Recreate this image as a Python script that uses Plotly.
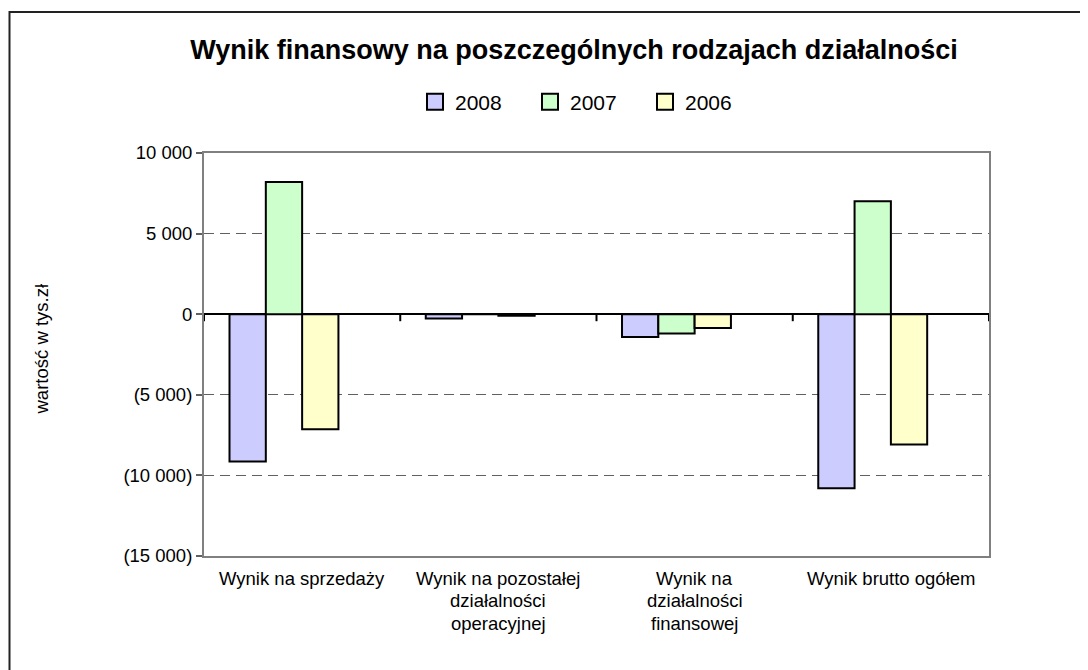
import plotly.graph_objects as go

# data (tys. zł)
categories = [
    "Wynik na sprzedaży",
    "Wynik na pozostałej<br>działalności<br>operacyjnej",
    "Wynik na<br>działalności<br>finansowej",
    "Wynik brutto ogółem",
]
years = ["2008", "2007", "2006"]
values_2008 = [-9130, -270, -1410, -10790]
values_2007 = [8200, 0, -1200, 7010]
values_2006 = [-7140, -100, -850, -8090]
colors = ["#CCCCFF", "#CCFFCC", "#FFFFCC"]

y_ticks = [-15000, -10000, -5000, 0, 5000, 10000]
y_tick_labels = ["(15 000)", "(10 000)", "(5 000)", "0", "5 000", "10 000"]

title_text = "Wynik finansowy na poszczególnych rodzajach działalności"
y_title = "wartość w tys.zł"

FONT = "Arial, Liberation Sans, sans-serif"

# page has an 8px body margin, so the figure is drawn 8px smaller
OFF = 8
W, H = 1088 - OFF, 670 - OFF
L, R, T, B = 204 - OFF, 99, 153 - OFF, 114
pw, ph = W - L - R, H - T - B


def px_x(x):
    # page pixel -> paper x
    return (x - OFF - L) / pw


def px_y(y):
    # page pixel -> paper y
    return (H - B - (y - OFF)) / ph


fig = go.Figure()
bar_w = 0.185
offsets = [-2 * bar_w, -bar_w, 0]
for name, vals, col, off in zip(years, [values_2008, values_2007, values_2006], colors, offsets):
    fig.add_trace(go.Bar(
        x=list(range(len(categories))), y=vals, name=name,
        width=bar_w, offset=off, showlegend=False,
        marker=dict(color=col, line=dict(color="black", width=2)),
    ))
# legend entries with bigger squares
for name, col in zip(years, colors):
    fig.add_trace(go.Scatter(
        x=[None], y=[None], mode="markers", name=name,
        marker=dict(symbol="square", size=16, color=col,
                    line=dict(color="black", width=2)),
    ))

# category labels as annotations so line spacing can match
for i, lab in enumerate(categories):
    for j, line in enumerate(lab.split("<br>")):
        fig.add_annotation(
            x=i, y=0, xref="x", yref="paper", text=line, showarrow=False,
            yanchor="middle", yshift=-22 - 22.5 * j,
            font=dict(family=FONT, size=18.5, color="black"),
        )

# small tick marks on the zero line between categories
for k in range(len(categories) + 1):
    fig.add_shape(
        type="line", xref="x", yref="y", x0=k - 0.5, x1=k - 0.5,
        ysizemode="pixel", yanchor=0, y0=0, y1=-7,
        line=dict(color="black", width=2),
    )

# outer chart border (left edge kept just inside the page margin)
fig.add_shape(
    type="rect", xref="paper", yref="paper",
    x0=px_x(9.5), x1=px_x(1100), y0=px_y(12), y1=px_y(690),
    line=dict(color="#222222", width=2), layer="below",
)

fig.add_annotation(
    x=px_x(28), y=px_y(349), xref="paper", yref="paper", text=y_title,
    showarrow=False, textangle=-90,
    font=dict(family=FONT, size=18.5, color="black"),
)

fig.update_layout(
    width=W, height=H,
    margin=dict(l=L, r=R, t=T, b=B),
    paper_bgcolor="white", plot_bgcolor="white",
    font=dict(family=FONT, size=18.5, color="black"),
    title=dict(
        text="<b>" + title_text + "</b>", x=(574 - OFF) / W, xanchor="center",
        y=1 - (50 - OFF) / H, yanchor="middle",
        font=dict(family=FONT, size=27, color="black"),
    ),
    barmode="overlay",
    legend=dict(
        orientation="h", x=px_x(415), xanchor="left",
        y=px_y(102), yanchor="middle", itemsizing="trace",
        entrywidth=70, entrywidthmode="pixels",
        font=dict(family=FONT, size=21), bgcolor="rgba(0,0,0,0)",
    ),
    showlegend=True,
)
fig.update_xaxes(
    range=[-0.5, len(categories) - 0.5], showticklabels=False, ticks="",
    showgrid=False, zeroline=False,
    showline=True, mirror=True, linecolor="#808080", linewidth=2,
)
fig.update_yaxes(
    range=[-15000, 10000], tickvals=y_ticks, ticktext=y_tick_labels,
    tickfont=dict(family=FONT, size=18.5, color="black"),
    ticks="outside", ticklen=6, tickcolor="#606060", tickwidth=2,
    showgrid=True, gridcolor="#606060", griddash="10px,6px", gridwidth=1.2,
    zeroline=True, zerolinecolor="black", zerolinewidth=2,
    showline=True, mirror=True, linecolor="#808080", linewidth=2,
)

fig.write_html("out.html")
